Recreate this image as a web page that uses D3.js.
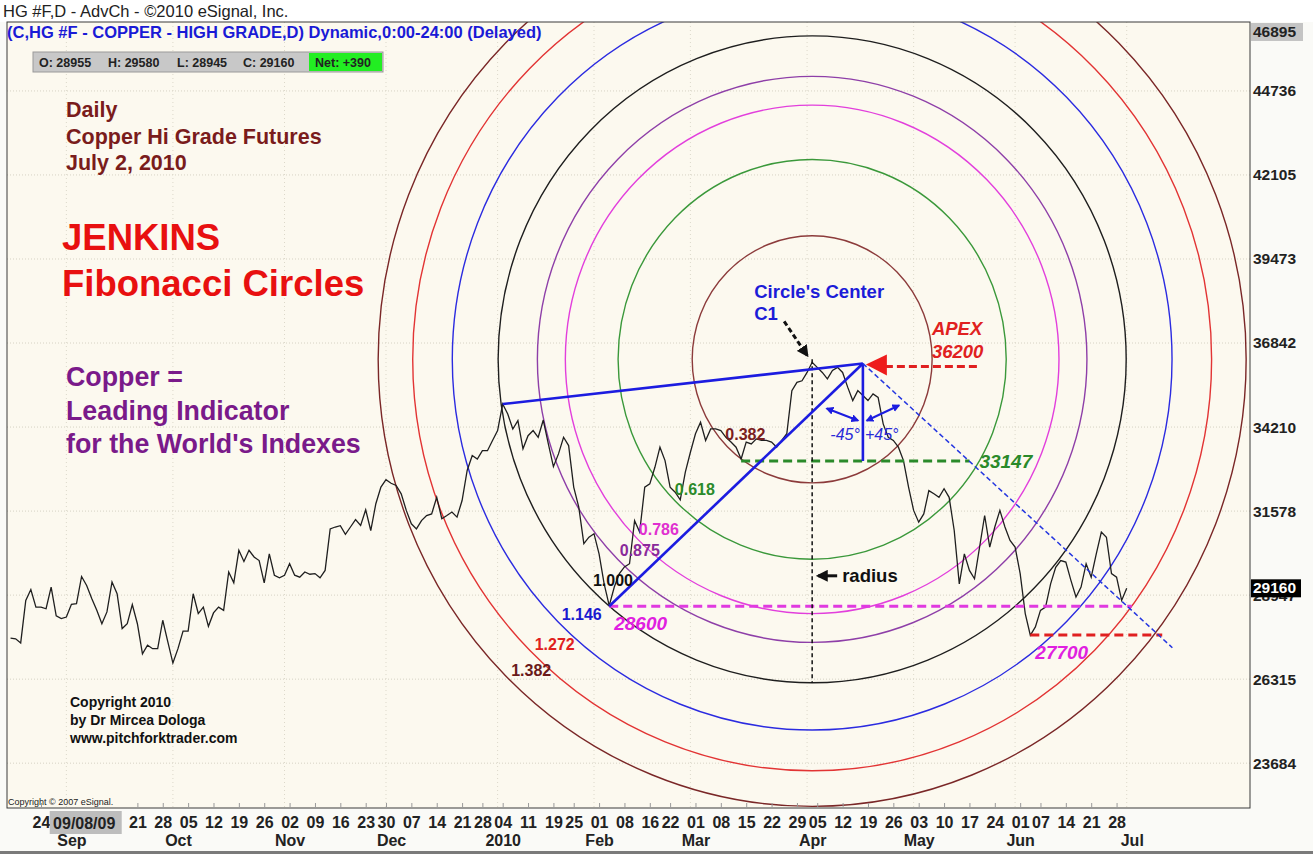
<!DOCTYPE html>
<html>
<head>
<meta charset="utf-8">
<script src="https://cdnjs.cloudflare.com/ajax/libs/d3/7.8.5/d3.min.js"></script>
<style>
  body { margin: 0; background: #fafaf7; }
  svg text { font-family: "Liberation Sans", Arial, sans-serif; }
</style>
</head>
<body>
<div id="chart-area"></div>
<script>
// Daily closes of HG #F (copper), first bar on startDate, one value per trading day
var startDate = "2009-08-14";
var closes = [
    27600, 27580, 27450, 28780, 29120, 28570, 28570, 28520, 29200, 28300,
    28210, 28260, 28660, 28680, 29530, 29250, 28840, 28470, 28050, 28420,
    29360, 28990, 27900, 28050, 28650, 28050, 27110, 27380, 27270, 27270,
    28160, 27480, 26820, 27270, 27820, 27820, 28990, 28370, 28570, 27970,
    28390, 28570, 28470, 29670, 29330, 30350, 30000, 30350, 30140, 30030,
    29330, 30240, 29570, 29490, 29570, 29930, 29570, 29510, 29670, 29600,
    29620, 29490, 29720, 31020, 31080, 31120, 30850, 31080, 31310, 31130,
    31620, 30970, 31810, 32330, 32560, 32450, 32380, 32120, 31600, 31180,
    31020,
    31280, 31440, 31490, 32010, 31340, 31440, 31550, 31390, 31910, 32850,
    33320, 33210, 33470, 33470, 33790, 34100, 34930, 34620, 34150, 34410,
    33530, 33940, 34100, 33890, 34430, 33680, 32970, 33370, 33890, 33630,
    32330, 31700, 30560, 30760, 30870, 30240, 29300, 28620, 29200, 29620,
    29830, 29930, 31280, 30920, 32330, 32430, 32950, 33580, 33160, 32330,
    32170, 31930, 32800, 33420, 34000, 34360, 33790, 34150, 34150, 34100,
    33890, 33740, 33580, 33210, 33740, 33680, 33840, 33790, 33790, 33740,
    33580, 33790, 34000, 35350, 35610, 35660, 35920, 36240,
    36080, 35920, 35720, 35980, 36080, 35920, 35460, 35040, 35350, 35200,
    35040, 35250, 35140, 34310, 33890, 33790, 33580, 33160, 32330, 31600,
    31230, 31490, 32220, 32120, 32010, 32280, 32010, 30970, 29300, 30240,
    29720, 29460, 30450, 31440, 30450, 31080, 31600, 31080, 30660, 30450,
    29620, 28370, 27690, 27950, 28470, 28570, 29300, 29820, 30030, 29980,
    29410, 28890, 29200, 29930, 29510, 30240, 30920, 30760, 29620, 29510,
    28780, 29160
];

// exchange holidays (no bar)
var holidays = ["2009-09-07", "2009-11-26", "2009-12-25", "2010-01-01", "2010-01-18",
    "2010-02-15", "2010-04-02", "2010-05-31", "2010-07-05"];

var yTicks = [23684, 26315, 28947, 31578, 34210, 36842, 39473, 42105, 44736];
var yTop = 46895;

var monthLabels = [["2009-09-01", "Sep"], ["2009-10-01", "Oct"], ["2009-11-02", "Nov"],
    ["2009-12-01", "Dec"], ["2010-01-04", "2010"], ["2010-02-01", "Feb"], ["2010-03-01", "Mar"],
    ["2010-04-01", "Apr"], ["2010-05-03", "May"], ["2010-06-01", "Jun"], ["2010-07-01", "Jul"]];
var weekFrom = "2009-08-24", weekTo = "2010-06-28";
var cursorDate = "2009-09-08", cursorLabel = "09/08/09";

var ohlc = [["O", 28955], ["H", 29580], ["L", 28945], ["C", 29160]];
var net = "+390";

// Fibonacci circles, centred on C1, unit radius through the February low
var fibRatios = [0.382, 0.618, 0.786, 0.875, 1.000, 1.146, 1.272, 1.382];
var fibColors = ["#8c3b3b", "#3a983a", "#e23fdc", "#8e3fa8", "#1e1e1e", "#2b2be0", "#e23434", "#7a2727"];
var fibLabelColors = ["#7a2020", "#2a8a2a", "#e030d0", "#8a2a9a", "#111111", "#1a1ad0", "#e02020", "#6a1a1a"];
var centerPoint = {date: "2010-04-01", value: 36330};

// construction points
var lowPoint = {date: "2010-02-03", value: 28600};
var apexPoint = {date: "2010-04-16", value: 36200};
var janHigh = {date: "2010-01-04", value: 34930};
var trendEnd = {date: "2010-07-14", value: 27300};
var apexArrowFrom = "2010-05-19";
var levels = [
    {value: 33147, from: "2010-03-12", to: "2010-05-17", color: "#2a8a2a", label: "33147", labelColor: "#2a8a2a", side: "end"},
    {value: 28600, from: "2010-02-03", to: "2010-07-01", color: "#e03ae0", label: "28600", labelColor: "#e020e0", side: "start"},
    {value: 27700, from: "2010-06-03", to: "2010-07-12", color: "#e02020", label: "27700", labelColor: "#e020e0", side: "start"}
];

var W = 1313, H = 854;
var plot = {left: 7, right: 1250, top: 22, bottom: 808};
var aspect = 1.03; // circles are slightly taller than wide in the original

// trading calendar
var fmt = d3.timeFormat("%Y-%m-%d");
var parse = d3.timeParse("%Y-%m-%d");
var days = d3.timeDay.range(parse(startDate), parse("2010-08-01"))
    .filter(d => d.getDay() !== 0 && d.getDay() !== 6 && holidays.indexOf(fmt(d)) < 0);
var dayIndex = {};
days.forEach((d, i) => { dayIndex[fmt(d)] = i; });

var data = closes.map((c, i) => ({i: i, date: days[i], close: c}));

var svg = d3.select("#chart-area").append("svg")
    .attr("width", W).attr("height", H);

svg.append("rect").attr("width", W).attr("height", H).attr("fill", "#fafaf7");
svg.append("rect").attr("width", W).attr("height", plot.top).attr("fill", "#ffffff");
svg.append("rect")
    .attr("x", plot.left).attr("y", plot.top)
    .attr("width", plot.right - plot.left).attr("height", plot.bottom - plot.top)
    .attr("fill", "#fcf9ef");

svg.append("clipPath").attr("id", "clip")
    .append("rect")
    .attr("x", plot.left).attr("y", plot.top)
    .attr("width", plot.right - plot.left).attr("height", plot.bottom - plot.top);

// scales (x = trading day index)
var x = d3.scaleLinear().domain([-0.7, 244.3]).range([plot.left, plot.right]);
var y = d3.scaleLinear().domain([22280, yTop]).range([plot.bottom, plot.top]);
var xd = s => x(dayIndex[s]);

var g = svg.append("g").attr("clip-path", "url(#clip)");

// grid
g.selectAll(".hgrid").data(yTicks).enter().append("line")
    .attr("x1", plot.left).attr("x2", plot.right)
    .attr("y1", d => y(d)).attr("y2", d => y(d))
    .attr("stroke", "#d6d2c4").attr("stroke-dasharray", "1,2");
g.selectAll(".vgrid").data(monthLabels).enter().append("line")
    .attr("x1", d => x(dayIndex[d[0]] - 1)).attr("x2", d => x(dayIndex[d[0]] - 1))
    .attr("y1", plot.top).attr("y2", plot.bottom)
    .attr("stroke", "#dcd8ca").attr("stroke-dasharray", "1,3");

// circles
var cx = xd(centerPoint.date), cy = y(centerPoint.value);
var R = Math.hypot(xd(lowPoint.date) - cx, (y(lowPoint.value) - cy) / aspect);

g.selectAll(".fib").data(fibRatios).enter().append("ellipse")
    .attr("cx", cx).attr("cy", cy)
    .attr("rx", d => d * R)
    .attr("ry", d => d * R * aspect)
    .attr("fill", "none")
    .attr("stroke", (d, k) => fibColors[k])
    .attr("stroke-width", 1.4);

// price line
var line = d3.line().x(d => x(d.i)).y(d => y(d.close));
g.append("path").datum(data)
    .attr("d", line)
    .attr("fill", "none")
    .attr("stroke", "#1f1f1f")
    .attr("stroke-width", 1.3);

// markers
var defs = svg.append("defs");
function marker(id, color, size) {
    defs.append("marker").attr("id", id)
        .attr("viewBox", "0 0 10 10").attr("refX", 8).attr("refY", 5)
        .attr("markerWidth", size).attr("markerHeight", size)
        .attr("orient", "auto-start-reverse")
        .append("path").attr("d", "M0,0 L10,5 L0,10 z").attr("fill", color);
}
marker("arrBlue", "#1c1ce0", 4);
marker("arrBlack", "#111", 4);

var ax = xd(apexPoint.date), ay = y(apexPoint.value);

// horizontal levels
levels.forEach(l => {
    g.append("line")
        .attr("x1", xd(l.from)).attr("x2", xd(l.to))
        .attr("y1", y(l.value)).attr("y2", y(l.value))
        .attr("stroke", l.color).attr("stroke-width", 3)
        .attr("stroke-dasharray", "9,5");
});

// black dashed radius line
g.append("line")
    .attr("x1", cx).attr("x2", cx)
    .attr("y1", cy).attr("y2", cy + R * aspect)
    .attr("stroke", "#111").attr("stroke-width", 1.5)
    .attr("stroke-dasharray", "4,3");

// blue construction lines
var blue = "#1c1ce0";
[[janHigh, apexPoint], [lowPoint, apexPoint]].forEach(p => {
    g.append("line")
        .attr("x1", xd(p[0].date)).attr("y1", y(p[0].value))
        .attr("x2", xd(p[1].date)).attr("y2", y(p[1].value))
        .attr("stroke", blue).attr("stroke-width", 2.6);
});
g.append("line")
    .attr("x1", ax).attr("x2", ax)
    .attr("y1", ay).attr("y2", y(levels[0].value))
    .attr("stroke", blue).attr("stroke-width", 2.6);
g.append("line")
    .attr("x1", ax).attr("y1", ay)
    .attr("x2", xd(trendEnd.date)).attr("y2", y(trendEnd.value))
    .attr("stroke", "#2436e0").attr("stroke-width", 1.5)
    .attr("stroke-dasharray", "5,3");

// +-45 degree arrows
g.append("line")
    .attr("x1", ax - 36).attr("y1", ay + 45).attr("x2", ax - 5).attr("y2", ay + 57)
    .attr("stroke", blue).attr("stroke-width", 2)
    .attr("marker-start", "url(#arrBlue)").attr("marker-end", "url(#arrBlue)");
g.append("line")
    .attr("x1", ax + 4).attr("y1", ay + 57).attr("x2", ax + 36).attr("y2", ay + 42)
    .attr("stroke", blue).attr("stroke-width", 2)
    .attr("marker-start", "url(#arrBlue)").attr("marker-end", "url(#arrBlue)");
g.append("text").attr("x", ax - 3).attr("y", ay + 76)
    .attr("text-anchor", "end").attr("font-size", "16px").attr("font-style", "italic")
    .attr("fill", "#2a2ad8").text("-45°");
g.append("text").attr("x", ax + 2).attr("y", ay + 76)
    .attr("font-size", "16px").attr("font-style", "italic")
    .attr("fill", "#2a2ad8").text("+45°");

// APEX arrow
var apexFromX = xd(apexArrowFrom);
g.append("line")
    .attr("x1", ax + 22).attr("x2", apexFromX)
    .attr("y1", ay + 3).attr("y2", ay + 3)
    .attr("stroke", "#e02020").attr("stroke-width", 3)
    .attr("stroke-dasharray", "8,4");
g.append("path")
    .attr("d", "M" + (ax + 3) + "," + (ay + 1) + " L" + (ax + 24) + "," + (ay - 9) + " L" + (ax + 24) + "," + (ay + 12) + " Z")
    .attr("fill", "#ee1c1c");

// C1 pointer
g.append("line")
    .attr("x1", cx - 28).attr("y1", cy - 38).attr("x2", cx - 5).attr("y2", cy - 4)
    .attr("stroke", "#111").attr("stroke-width", 3).attr("stroke-dasharray", "5,3")
    .attr("marker-end", "url(#arrBlack)");

// radius pointer
var rY = cy + R * aspect - 107;
g.append("line")
    .attr("x1", cx + 25).attr("y1", rY).attr("x2", cx + 6).attr("y2", rY)
    .attr("stroke", "#111").attr("stroke-width", 3)
    .attr("marker-end", "url(#arrBlack)");
g.append("text").attr("x", cx + 30).attr("y", rY + 6)
    .attr("font-size", "18.5px").attr("font-weight", "bold").attr("fill", "#111")
    .text("radius");

// fib labels along a ray
var ang = 133 * Math.PI / 180;
g.selectAll(".fibLabel").data(fibRatios).enter().append("text")
    .attr("x", d => cx + (d * R - 22) * Math.cos(ang))
    .attr("y", d => cy + (d * R * aspect - 22) * Math.sin(ang) + 6)
    .attr("text-anchor", "middle")
    .attr("font-size", "16px").attr("font-weight", "bold")
    .attr("fill", (d, k) => fibLabelColors[k])
    .text(d => d3.format(".3f")(d));

// level labels
levels.forEach(l => {
    var lx = l.side === "end" ? xd(l.to) + 10 : xd(l.from) + 5;
    var ly = l.side === "end" ? y(l.value) + 7 : y(l.value) + 24;
    g.append("text").attr("x", lx).attr("y", ly)
        .attr("font-size", "19px").attr("font-weight", "bold").attr("font-style", "italic")
        .attr("fill", l.labelColor).text(l.label);
});

// apex / center texts
g.append("text").attr("x", ax + 69).attr("y", ay - 29)
    .attr("font-size", "18.5px").attr("font-weight", "bold").attr("font-style", "italic")
    .attr("fill", "#e02020").text("APEX");
g.append("text").attr("x", ax + 69).attr("y", ay - 6)
    .attr("font-size", "18.5px").attr("font-weight", "bold").attr("font-style", "italic")
    .attr("fill", "#e02020").text(d3.format("d")(apexPoint.value));
g.append("text").attr("x", cx + 7).attr("y", cy - 61)
    .attr("text-anchor", "middle")
    .attr("font-size", "18.5px").attr("font-weight", "bold")
    .attr("fill", "#1c1cd8").text("Circle's Center");
g.append("text").attr("x", cx - 58).attr("y", cy - 39)
    .attr("font-size", "18.5px").attr("font-weight", "bold")
    .attr("fill", "#1c1cd8").text("C1");

// frame
svg.append("rect")
    .attr("x", plot.left).attr("y", plot.top)
    .attr("width", plot.right - plot.left).attr("height", plot.bottom - plot.top)
    .attr("fill", "none").attr("stroke", "#3a3a3a");

// AXES
var rightAxis = d3.axisRight(y).tickValues(yTicks).tickSize(0).tickPadding(3)
    .tickFormat(d3.format("d"));
var ra = svg.append("g")
    .attr("transform", "translate(" + plot.right + ",0)")
    .call(rightAxis);
ra.select(".domain").remove();
ra.selectAll("text").attr("font-size", "15.5px").attr("font-weight", "bold").attr("fill", "#222");

// top value box and last price box
svg.append("rect").attr("x", plot.right + 1).attr("y", y(yTop) + 1)
    .attr("width", 52).attr("height", 18).attr("fill", "#c4c4c4");
svg.append("text").attr("x", plot.right + 3).attr("y", y(yTop) + 15)
    .attr("font-size", "15.5px").attr("font-weight", "bold").attr("fill", "#222")
    .text(yTop);
var last = closes[closes.length - 1];
svg.append("rect").attr("x", plot.right + 1).attr("y", y(last) - 9)
    .attr("width", 50).attr("height", 18).attr("fill", "#000");
svg.append("text").attr("x", plot.right + 3).attr("y", y(last) + 5)
    .attr("font-size", "15.5px").attr("font-weight", "bold").attr("fill", "#fff")
    .text(last);

// bottom axis: first trading day of each week (those under the cursor box are hidden)
var boxLeft = xd(cursorDate) - 45, boxRight = xd(cursorDate) + 30;
var weekIdx = days.map((d, i) => i)
    .filter(i => i > 0 && fmt(days[i]) >= weekFrom && fmt(days[i]) <= weekTo &&
        +d3.timeMonday.floor(days[i]) !== +d3.timeMonday.floor(days[i - 1]))
    .filter(i => x(i) < boxLeft || x(i) > boxRight + 8);
var bottomAxis = d3.axisBottom(x).tickValues(weekIdx)
    .tickSizeInner(-5).tickSizeOuter(0).tickPadding(9)
    .tickFormat(i => d3.timeFormat("%d")(days[i]));
var ba = svg.append("g")
    .attr("transform", "translate(0," + plot.bottom + ")")
    .call(bottomAxis);
ba.select(".domain").remove();
ba.selectAll("line").attr("stroke", "#9a9a9a");
ba.selectAll("text").attr("font-size", "16px").attr("font-weight", "bold").attr("fill", "#222");

var monthAxis = d3.axisBottom(x).tickValues(monthLabels.map(d => dayIndex[d[0]]))
    .tickSize(0).tickPadding(27)
    .tickFormat((d, k) => monthLabels[k][1]);
var ma = svg.append("g")
    .attr("transform", "translate(0," + plot.bottom + ")")
    .call(monthAxis);
ma.select(".domain").remove();
ma.selectAll("text").attr("font-size", "16px").attr("font-weight", "bold").attr("fill", "#222");

// cursor date box
svg.append("rect").attr("x", boxLeft + 3).attr("y", plot.bottom + 3)
    .attr("width", boxRight - boxLeft - 3).attr("height", 23).attr("fill", "#bdbdbd");
svg.append("text").attr("x", (boxLeft + boxRight) / 2).attr("y", plot.bottom + 21)
    .attr("text-anchor", "middle")
    .attr("font-size", "16px").attr("font-weight", "bold").attr("fill", "#222")
    .text(cursorLabel);

svg.append("rect").attr("x", 0).attr("y", H - 3).attr("width", W).attr("height", 3).attr("fill", "#7a7a7a");

// header
svg.append("text").attr("x", 3).attr("y", 17)
    .attr("font-size", "16.5px").attr("fill", "#222")
    .text("HG #F,D - AdvCh - ©2010 eSignal, Inc.");
svg.append("text").attr("x", 7).attr("y", 38)
    .attr("font-size", "16.5px").attr("font-weight", "bold").attr("fill", "#1a1ad6")
    .text("(C,HG #F - COPPER - HIGH GRADE,D) Dynamic,0:00-24:00 (Delayed)");

// OHLC box
svg.append("rect").attr("x", 33).attr("y", 52).attr("width", 350).attr("height", 20)
    .attr("fill", "#c8c8c8").attr("stroke", "#9a9a9a");
svg.append("rect").attr("x", 309).attr("y", 53).attr("width", 73).attr("height", 18)
    .attr("fill", "#22ee22");
var ohlcX = [39, 108, 177, 243];
ohlc.forEach((o, k) => {
    svg.append("text").attr("x", ohlcX[k]).attr("y", 67)
        .attr("font-size", "12.5px").attr("font-weight", "bold").attr("fill", "#222")
        .text(o[0] + ": " + o[1]);
});
svg.append("text").attr("x", 315).attr("y", 67)
    .attr("font-size", "12.5px").attr("font-weight", "bold").attr("fill", "#222")
    .text("Net: " + net);

// text blocks
function block(lines, x0, y0, dy, size, color) {
    lines.forEach((t, k) => {
        svg.append("text").attr("x", x0).attr("y", y0 + k * dy)
            .attr("font-size", size).attr("font-weight", "bold").attr("fill", color)
            .text(t);
    });
}
block(["Daily", "Copper Hi Grade Futures", "July 2, 2010"], 66, 117, 26.5, "21.5px", "#7a1c1c");
block(["JENKINS", "Fibonacci Circles"], 62, 250, 46, "36.5px", "#e81010");
block(["Copper =", "Leading Indicator", "for the World's Indexes"], 66, 386, 33.5, "26.8px", "#7a1a8a");
block(["Copyright 2010", "by Dr Mircea Dologa", "www.pitchforktrader.com"], 70, 707, 18, "14px", "#111");

svg.append("text").attr("x", 8).attr("y", 805)
    .attr("font-size", "9px").attr("fill", "#222")
    .text("Copyright © 2007 eSignal.");
</script>
</body>
</html>
